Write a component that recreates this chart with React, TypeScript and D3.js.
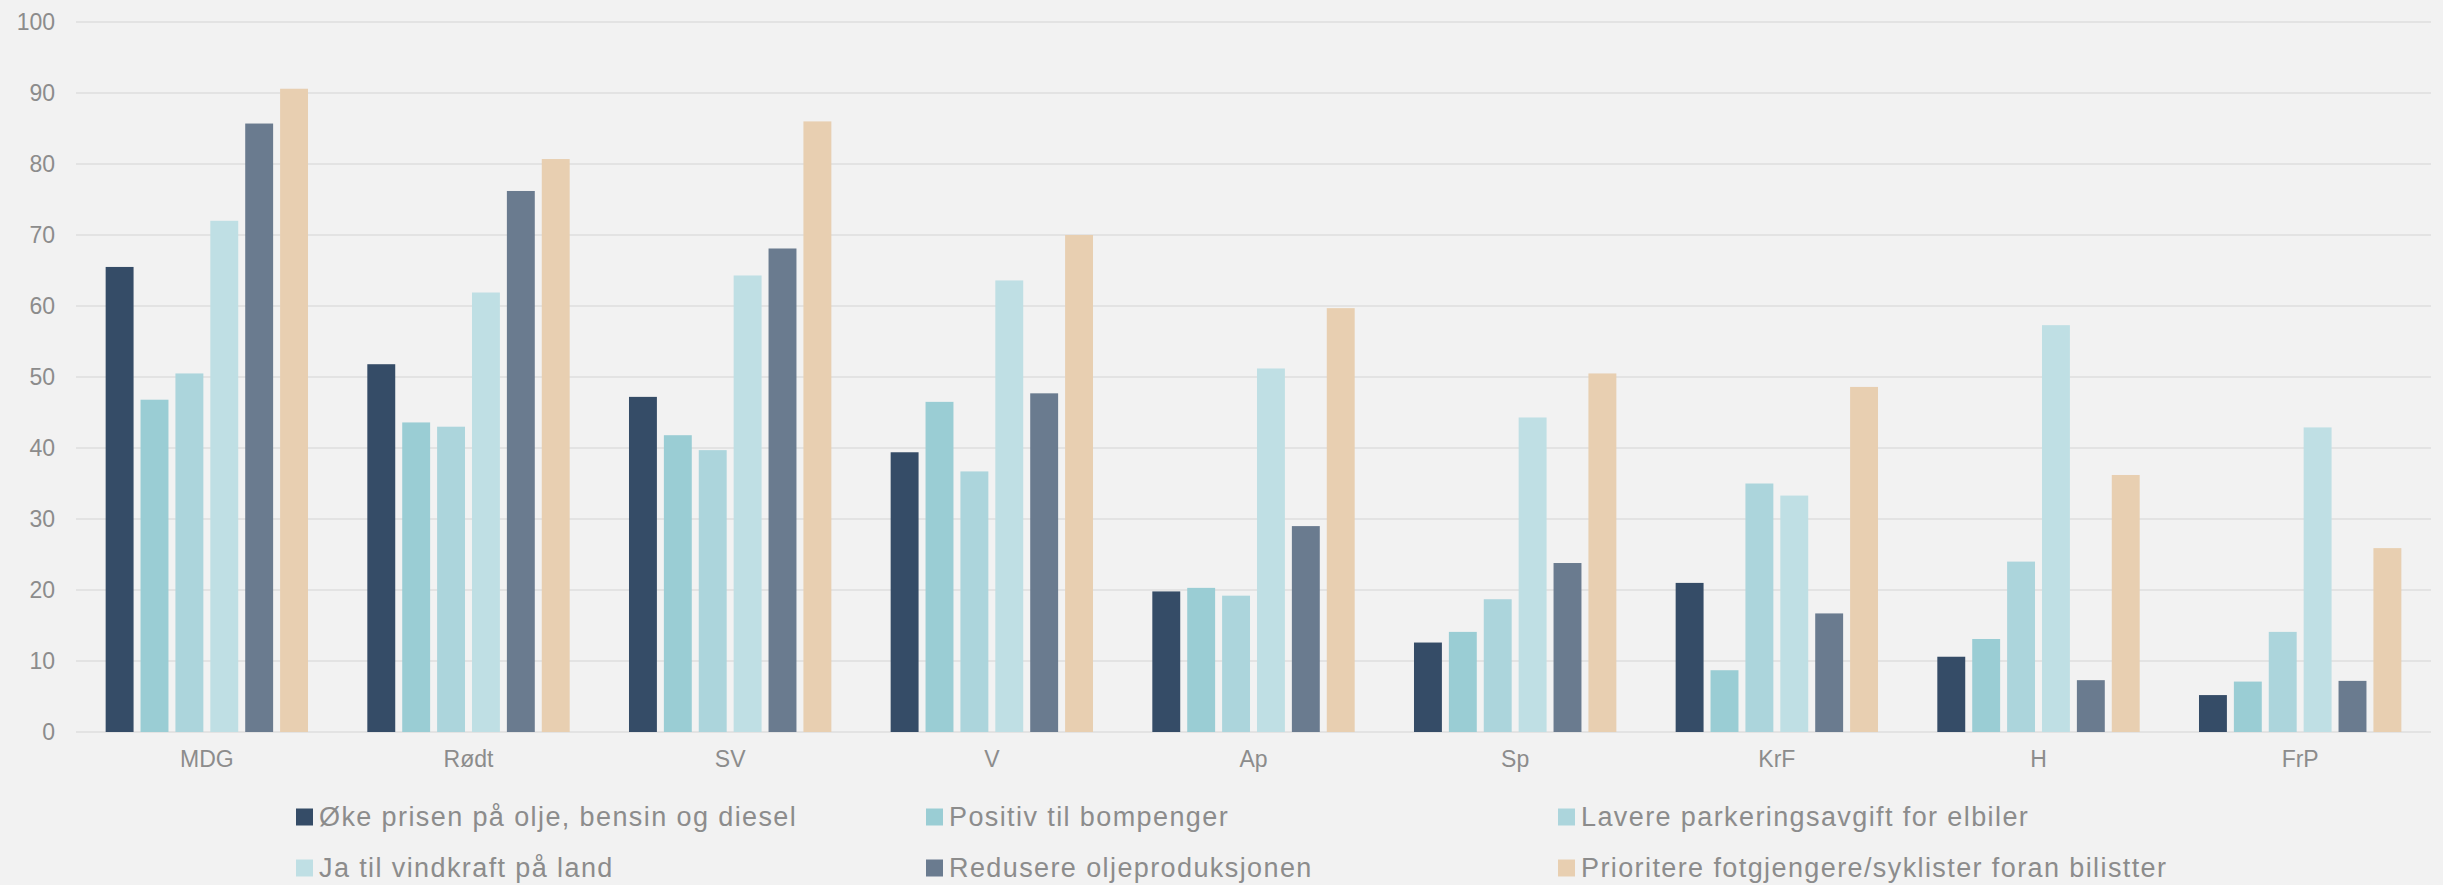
import * as d3 from 'd3'

const width = 2443
const height = 885

const parties = ['MDG', 'Rødt', 'SV', 'V', 'Ap', 'Sp', 'KrF', 'H', 'FrP']

const seriesNames = [
  'Øke prisen på olje, bensin og diesel',
  'Positiv til bompenger',
  'Lavere parkeringsavgift for elbiler',
  'Ja til vindkraft på land',
  'Redusere oljeproduksjonen',
  'Prioritere fotgjengere/syklister foran bilistter',
]

const colors = ['#354c67', '#9acdd4', '#acd5dc', '#bfdfe4', '#6a7b8f', '#e8cfb1']

// one array per series, same order as parties
const okePris = [65.5, 51.8, 47.2, 39.4, 19.8, 12.6, 21.0, 10.6, 5.2]
const bompenger = [46.8, 43.6, 41.8, 46.5, 20.3, 14.1, 8.7, 13.1, 7.1]
const parkering = [50.5, 43.0, 39.7, 36.7, 19.2, 18.7, 35.0, 24.0, 14.1]
const vindkraft = [72.0, 61.9, 64.3, 63.6, 51.2, 44.3, 33.3, 57.3, 42.9]
const oljeprod = [85.7, 76.2, 68.1, 47.7, 29.0, 23.8, 16.7, 7.3, 7.2]
const fotgjengere = [90.6, 80.7, 86.0, 70.0, 59.7, 50.5, 48.6, 36.2, 25.9]

const series = [okePris, bompenger, parkering, vindkraft, oljeprod, fotgjengere]

const yTicks = [0, 10, 20, 30, 40, 50, 60, 70, 80, 90, 100]

const margin = { top: 22, right: 12, bottom: 153, left: 76 }

export default function App() {
  const x0 = d3.scaleBand()
    .domain(parties)
    .range([margin.left, width - margin.right])
    .paddingInner(0)
    .paddingOuter(0)

  const x1 = d3.scaleBand()
    .domain(seriesNames)
    .range([0, x0.bandwidth()])
    .paddingInner(0.2)
    .paddingOuter(0.85)

  const y = d3.scaleLinear()
    .domain([0, 100])
    .range([height - margin.bottom, margin.top])

  const legendCols = [296, 926, 1558]
  const legendRows = [817, 868]

  return (
    <svg width={width} height={height}
      style={{ position: 'absolute', left: 0, top: 0, background: '#f2f2f2' }}>
      <rect width={width} height={height} fill="#f2f2f2" />

      {/* gridlines */}
      {yTicks.map(t => (
        <line key={t} x1={margin.left} x2={width - margin.right}
          y1={y(t)} y2={y(t)} stroke="#e3e3e3" strokeWidth={2} />
      ))}

      {/* y tick labels */}
      {yTicks.map(t => (
        <text key={t} x={55} y={y(t)} dy="0.35em" textAnchor="end"
          fontFamily="Liberation Sans, Arial, sans-serif" fontSize={23} fill="#8c8c8c">
          {t}
        </text>
      ))}

      {/* bars */}
      {parties.map((p, i) => (
        <g key={p} transform={`translate(${x0(p)},0)`}>
          {series.map((s, j) => (
            <rect key={j}
              x={x1(seriesNames[j])}
              y={y(s[i])}
              width={x1.bandwidth()}
              height={y(0) - y(s[i])}
              fill={colors[j]} />
          ))}
        </g>
      ))}

      {/* x labels */}
      {parties.map(p => (
        <text key={p} x={x0(p)! + x0.bandwidth() / 2} y={759} dy="0.35em" textAnchor="middle"
          fontFamily="Liberation Sans, Arial, sans-serif" fontSize={23} fill="#8c8c8c">
          {p}
        </text>
      ))}

      {/* legend */}
      {seriesNames.map((name, j) => {
        const lx = legendCols[j % 3]
        const ly = legendRows[Math.floor(j / 3)]
        return (
          <g key={name} transform={`translate(${lx},${ly})`}>
            <rect x={0} y={-8.5} width={17} height={17} fill={colors[j]} />
            <text x={23} y={0} dy="0.35em" letterSpacing={1.4}
              fontFamily="Liberation Sans, Arial, sans-serif" fontSize={27} fill="#8c8c8c">
              {name}
            </text>
          </g>
        )
      })}
    </svg>
  )
}
